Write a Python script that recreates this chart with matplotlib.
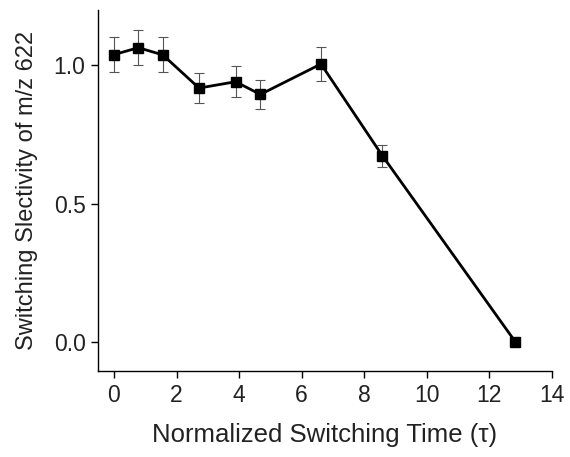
import matplotlib
matplotlib.use("Agg")
import matplotlib.pyplot as plt

plt.rcParams["font.family"] = ["Liberation Sans", "DejaVu Sans"]

# data
switch_time = [0.0, 0.78, 1.56, 2.72, 3.89, 4.68, 6.62, 8.58, 12.84]
selectivity = [1.039, 1.064, 1.038, 0.918, 0.941, 0.895, 1.005, 0.674, 0.0]
sel_err = [0.062, 0.064, 0.063, 0.055, 0.057, 0.053, 0.060, 0.040, 0.0]

fig = plt.figure(figsize=(5.7, 4.57), dpi=100)
ax = fig.add_axes([0.172, 0.188, 0.796, 0.79])

ax.errorbar(switch_time, selectivity, yerr=sel_err, fmt="none",
            ecolor="#555555", elinewidth=0.8, capsize=3.5, capthick=0.8, zorder=2)
ax.plot(switch_time, selectivity, color="black", linewidth=2.0,
        marker="s", markersize=7, zorder=3)

ax.set_xlim(-0.51, 14)
ax.set_ylim(-0.105, 1.2)
ax.set_xticks(range(0, 15, 2))
ax.set_yticks([0.0, 0.5, 1.0])
ax.set_yticklabels(["0.0", "0.5", "1.0"])

for s in ("top", "right"):
    ax.spines[s].set_visible(False)
for s in ("left", "bottom"):
    ax.spines[s].set_linewidth(1.0)
ax.tick_params(direction="out", length=5, width=1.0, labelsize=16.5, pad=4,
               labelcolor="#222222")

ax.set_xlabel("Normalized Switching Time (τ)", fontsize=18.5, labelpad=12, color="#222222")
ax.set_ylabel("Switching Slectivity of m/z 622", fontsize=17, labelpad=11, color="#222222")

fig.savefig("out.png", dpi=100, facecolor="white")
